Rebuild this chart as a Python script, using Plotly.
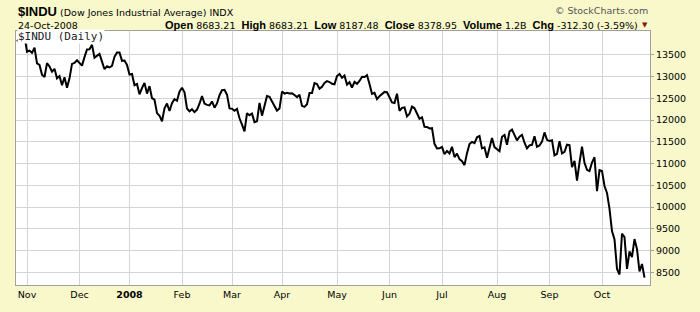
import pandas as pd
import plotly.graph_objects as go

# Trading-day closes, 26-Oct-2007 .. 24-Oct-2008
holidays = ["2007-11-22", "2007-12-25", "2008-01-01", "2008-01-21", "2008-02-18",
            "2008-03-21", "2008-05-26", "2008-07-04", "2008-09-01"]
dates = [d.strftime("%Y-%m-%d") for d in pd.bdate_range("2007-10-26", "2008-10-24")
         if d.strftime("%Y-%m-%d") not in holidays]

close = [
    13807, 13870, 13793, 13930,
    # Nov
    13568, 13595, 13543, 13661, 13300, 13266, 13043, 12988, 13307, 13231, 13110,
    13177, 12958, 13010, 12799, 12981, 12743, 12958, 13290, 13312, 13372,
    # Dec
    13315, 13249, 13445, 13620, 13626, 13727, 13433, 13474, 13518, 13340, 13167,
    13233, 13207, 13246, 13451, 13549, 13552, 13360, 13366, 13265,
    # Jan
    13044, 13057, 12800, 12828, 12589, 12735, 12853, 12606, 12778, 12501, 12466,
    12159, 12099, 11971, 12270, 12379, 12207, 12384, 12480, 12443, 12650,
    # Feb
    12743, 12635, 12265, 12200, 12247, 12182, 12240, 12373, 12552, 12377, 12348,
    12337, 12427, 12284, 12381, 12570, 12685, 12694, 12582, 12266,
    # Mar
    12259, 12214, 12255, 12040, 11894, 11740, 12157, 12110, 12146, 11951, 11972,
    12393, 12100, 12361, 12549, 12533, 12423, 12303, 12216, 12263,
    # Apr
    12654, 12606, 12626, 12609, 12612, 12576, 12527, 12582, 12325, 12302, 12363,
    12619, 12621, 12849, 12825, 12720, 12763, 12849, 12892, 12872, 12832, 12820,
    # May
    13010, 13058, 12970, 13021, 12814, 12867, 12746, 12876, 12832, 12898, 12993,
    12987, 13028, 12829, 12601, 12626, 12480, 12548, 12594, 12646, 12638,
    # Jun
    12504, 12403, 12391, 12605, 12210, 12280, 12290, 12084, 12142, 12307, 12269,
    12160, 12029, 12063, 11843, 11842, 11807, 11812, 11453, 11347, 11350,
    # Jul
    11382, 11216, 11289, 11232, 11384, 11147, 11229, 11101, 11055, 10963, 11239,
    11447, 11497, 11467, 11603, 11632, 11349, 11371, 11131, 11398, 11584, 11378,
    # Aug
    11326, 11284, 11616, 11656, 11431, 11734, 11782, 11643, 11533, 11616, 11660,
    11479, 11349, 11417, 11430, 11628, 11386, 11413, 11503, 11715, 11544,
    # Sep
    11517, 11533, 11188, 11221, 11511, 11231, 11269, 11434, 11422, 10918, 11059,
    10610, 11020, 11388, 11016, 10854, 10825, 11022, 11143, 10366, 10851,
    # Oct
    10831, 10483, 10325, 9956, 9447, 9258, 8579, 8451, 9388, 9311, 8578,
    8979, 8852, 9265, 9034, 8519, 8691, 8379,
]
assert len(dates) == len(close), (len(dates), len(close))

month_labels = ["Nov", "Dec", "<b>2008</b>", "Feb", "Mar", "Apr", "May", "Jun",
                "Jul", "Aug", "Sep", "Oct"]
month_keys = ["2007-11", "2007-12", "2008-01", "2008-02", "2008-03", "2008-04",
              "2008-05", "2008-06", "2008-07", "2008-08", "2008-09", "2008-10"]
tick_dates = [next(d for d in dates if d.startswith(k)) for k in month_keys]
y_ticks = [8500, 9000, 9500, 10000, 10500, 11000, 11500, 12000, 12500, 13000, 13500]

BG = "#F8F8CB"
FONT = "DejaVu Sans"

fig = go.Figure()
fig.add_trace(go.Scatter(x=dates, y=close, mode="lines",
                         line=dict(color="black", width=2), hoverinfo="skip"))

L, R, T, B = 16, 50, 31, 17
W, H = 700, 312
pw, ph = W - L - R, H - T - B

def px(x):
    return (x - L) / pw

def py(y):
    return (H - B - y) / ph

fig.update_layout(
    width=W, height=H, margin=dict(l=L, r=R, t=T, b=B),
    paper_bgcolor=BG, plot_bgcolor="white", showlegend=False,
    font=dict(family=FONT, color="black", size=9),
    xaxis=dict(type="category", range=[-0.4, 253.2], tickmode="array",
               tickvals=tick_dates, ticktext=month_labels, showgrid=True,
               gridcolor="#D4D4D4", gridwidth=1, showline=True, linecolor="#A0A0A0",
               mirror=True, ticks="", tickfont=dict(size=9.5, family=FONT), ticklabelstandoff=1),
    yaxis=dict(side="right", range=[8209, 14045], tickmode="array", tickvals=y_ticks,
               ticktext=[str(v) for v in y_ticks], showgrid=True, gridcolor="#D4D4D4",
               gridwidth=1, showline=True, linecolor="#A0A0A0", mirror=True,
               ticks="outside", ticklen=3, tickcolor="#A0A0A0",
               tickfont=dict(size=9.5, family=FONT), zeroline=False),
)

def B_(s):
    return "<span style='font-family:Liberation Sans;font-size:11px'><b>" + s + "</b></span>"

ann = []
ann.append(dict(x=px(16), y=py(11), xref="paper", yref="paper", xanchor="left", yanchor="middle",
                text="<span style='font-family:Liberation Sans;font-size:13px'><b>$INDU</b></span>"
                     " <span style='font-size:9.5px'>(Dow Jones Industrial Average) INDX</span>",
                font=dict(size=9.5, family=FONT), showarrow=False))
ann.append(dict(x=px(16), y=py(25), xref="paper", yref="paper", xanchor="left", yanchor="middle",
                text="24-Oct-2008", font=dict(size=9.5, family=FONT), showarrow=False))
ann.append(dict(x=px(640), y=py(25), xref="paper", yref="paper", xanchor="right", yanchor="middle",
                text=B_("Open") + " 8683.21  " + B_("High") + " 8683.21  " + B_("Low") +
                     " 8187.48  " + B_("Close") + " 8378.95  " + B_("Volume") + " 1.2B  " +
                     B_("Chg") + " -312.30 (-3.59%)",
                font=dict(size=9.5, family=FONT), showarrow=False))
ann.append(dict(x=px(645), y=py(25), xref="paper", yref="paper", xanchor="center", yanchor="middle",
                text="▼", font=dict(size=7, color="#8B1020", family=FONT), showarrow=False))
ann.append(dict(x=px(650), y=py(10), xref="paper", yref="paper", xanchor="right", yanchor="middle",
                text="© StockCharts.com", font=dict(size=9.5, color="#555555", family=FONT),
                showarrow=False))
ann.append(dict(x=px(17), y=py(37), xref="paper", yref="paper", xanchor="left", yanchor="middle",
                text="$INDU (Daily)", font=dict(size=11, family="DejaVu Sans Mono", color="#222222"),
                bgcolor="white", borderpad=0, showarrow=False))
fig.update_layout(annotations=ann)

fig.write_html("out.html")
